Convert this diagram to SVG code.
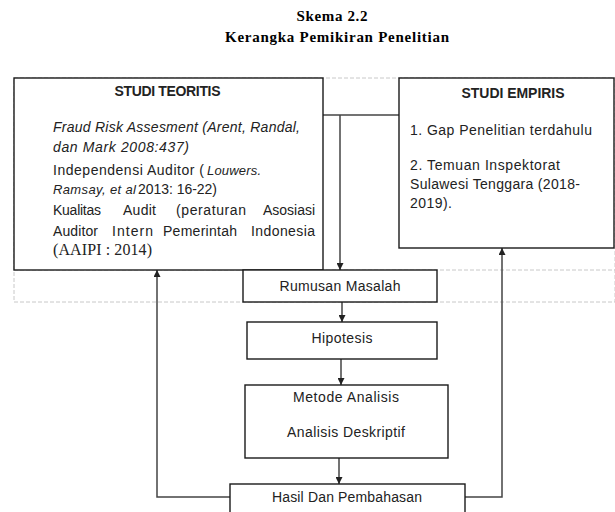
<svg xmlns="http://www.w3.org/2000/svg" width="615" height="512" viewBox="0 0 615 512">
<style>
.box{fill:#fff;stroke:#1a1a1a;stroke-width:1.4}
.con{fill:none;stroke:#444;stroke-width:1.5}
.dash{fill:none;stroke:#c8c8c8;stroke-width:1;stroke-dasharray:4 2}
.t{font-family:"Liberation Sans",Arial,sans-serif;font-size:14px;fill:#222}
.b{font-weight:bold}
.i{font-style:italic}
.s{font-size:13px}
.serif{font-family:"Liberation Serif","Times New Roman",serif;font-size:16px;fill:#222}
.title{font-family:"Liberation Serif","Times New Roman",serif;font-size:15px;font-weight:bold;fill:#000}
</style>
<defs>
<marker id="ah" viewBox="0 0 10 10" refX="10" refY="5" markerWidth="7" markerHeight="7" markerUnits="userSpaceOnUse" orient="auto">
<path d="M0,0 L10,5 L0,10 z" fill="#222"/>
</marker>
</defs>
<rect width="615" height="512" fill="#fff"/>
<g id="title">
<text class="title" x="332" y="21" text-anchor="middle" textLength="71">Skema 2.2</text>
<text class="title" x="337" y="42" text-anchor="middle" textLength="224">Kerangka Pemikiran Penelitian</text>
</g>
<g id="frames">
<rect class="dash" x="14" y="78" width="601" height="224"/>
<line class="dash" x1="14" y1="270" x2="615" y2="270"/>
</g>
<g id="connectors">
<line class="con" x1="323" y1="115" x2="399" y2="115"/>
<line class="con" x1="340" y1="115" x2="340" y2="270" marker-end="url(#ah)"/>
<line class="con" x1="342" y1="302" x2="342" y2="322" marker-end="url(#ah)"/>
<line class="con" x1="341" y1="359" x2="341" y2="385" marker-end="url(#ah)"/>
<line class="con" x1="339" y1="458" x2="339" y2="484" marker-end="url(#ah)"/>
<polyline class="con" points="230,497 157,497 157,270" marker-end="url(#ah)"/>
<polyline class="con" points="465,497 502,497 502,248" marker-end="url(#ah)"/>
</g>
<g id="studi-teoritis">
<rect class="box" x="14" y="78" width="309" height="192"/>
<text class="t b" x="167.5" y="96" text-anchor="middle" textLength="106">STUDI TEORITIS</text>
<text class="t i" x="53" y="132" textLength="247">Fraud Risk Assesment (Arent, Randal,</text>
<text class="t i" x="53" y="152" textLength="136">dan Mark 2008:437)</text>
<text class="t" x="53" y="175"><tspan textLength="151">Independensi Auditor (</tspan><tspan class="i s" x="207" textLength="54">Louwers.</tspan></text>
<text class="t" x="53" y="194"><tspan class="i s" textLength="83">Ramsay, et al</tspan><tspan x="138" textLength="79">2013: 16-22)</tspan></text>
<text class="t" y="215"><tspan x="53" textLength="48">Kualitas</tspan><tspan x="123" textLength="33">Audit</tspan><tspan x="176" textLength="70">(peraturan</tspan><tspan x="263" textLength="52">Asosiasi</tspan></text>
<text class="t" y="236"><tspan x="53" textLength="45">Auditor</tspan><tspan x="112" textLength="41">Intern</tspan><tspan x="163" textLength="74">Pemerintah</tspan><tspan x="251" textLength="64">Indonesia</tspan></text>
<text class="serif" x="53" y="255" textLength="99">(AAIPI : 2014)</text>
</g>
<g id="studi-empiris">
<rect class="box" x="399" y="78" width="215" height="170"/>
<text class="t b" x="513" y="98" text-anchor="middle" textLength="103">STUDI EMPIRIS</text>
<text class="t" x="410" y="135" textLength="182">1. Gap Penelitian terdahulu</text>
<text class="t" x="410" y="170" textLength="150">2. Temuan Inspektorat</text>
<text class="t" x="410" y="189" textLength="170">Sulawesi Tenggara (2018-</text>
<text class="t" x="410" y="208" textLength="42">2019).</text>
</g>
<g id="rumusan-masalah">
<rect class="box" x="243" y="270" width="194" height="32"/>
<text class="t" x="340" y="291" text-anchor="middle" textLength="121">Rumusan Masalah</text>
</g>
<g id="hipotesis">
<rect class="box" x="247" y="322" width="190" height="37"/>
<text class="t" x="342" y="343" text-anchor="middle" textLength="61">Hipotesis</text>
</g>
<g id="metode-analisis">
<rect class="box" x="245" y="385" width="203" height="73"/>
<text class="t" x="346" y="402" text-anchor="middle" textLength="106">Metode Analisis</text>
<text class="t" x="346" y="437" text-anchor="middle" textLength="118">Analisis Deskriptif</text>
</g>
<g id="hasil-pembahasan">
<rect class="box" x="230" y="484" width="235" height="40"/>
<text class="t" x="347" y="502" text-anchor="middle" textLength="150">Hasil Dan Pembahasan</text>
</g>
</svg>
